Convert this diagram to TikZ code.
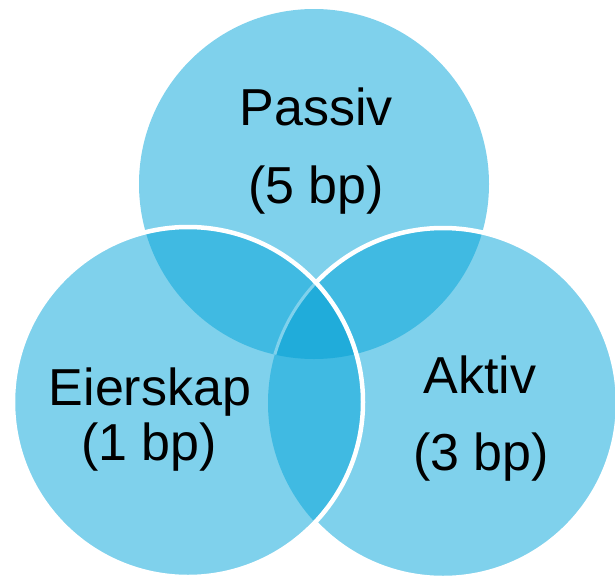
\documentclass[tikz,border=0pt]{standalone}
\usepackage{fontspec}
\setmainfont{Liberation Sans}

\definecolor{vennlight}{RGB}{127,209,236}
\definecolor{venndouble}{RGB}{64,186,226}
\definecolor{venntriple}{RGB}{32,172,218}

\begin{document}
\begin{tikzpicture}[x=1pt, y=-1pt,
  venntext/.style={anchor=base, inner sep=0pt, font=\fontsize{52}{62}\selectfont}]

\useasboundingbox (0,0) rectangle (615,576);
\clip (0,0) rectangle (615,576);

% Centres of the three circles
\coordinate (T) at (314,184);
\coordinate (L) at (188,402);
\coordinate (R) at (443,403);

% Top and right discs
\fill [vennlight] (T) circle (175pt);
\fill [vennlight] (R) circle (175pt);
\begin{scope}
\clip (T) circle (175pt);
\fill [venndouble] (R) circle (175pt);
\end{scope}
\draw [white, line width=4.5pt] (R) circle (175pt);

% Left disc on top, with its overlaps
\fill [vennlight] (L) circle (175pt);
\begin{scope}
\clip (L) circle (175pt);
\fill [venndouble] (T) circle (175pt);
\fill [venndouble] (R) circle (175pt);
\clip (T) circle (175pt);
\fill [venntriple] (R) circle (175pt);
% faint trace of the right outline
\draw [vennlight, line width=3pt] (R) circle (175pt);
\end{scope}

% Outline of the left circle
\draw [white, line width=4.5pt] (L) circle (175pt);

% Labels
\node [venntext] (passiv)     at (316,125) {Passiv};
\node [venntext] (passivbp)   at (316,203) {(5 bp)};
\node [venntext] (eierskap)   at (150,405) {Eierskap};
\node [venntext] (eierskapbp) at (149,460) {(1 bp)};
\node [venntext] (aktiv)      at (480,393) {Aktiv};
\node [venntext] (aktivbp)    at (481,470) {(3 bp)};

\end{tikzpicture}
\end{document}
